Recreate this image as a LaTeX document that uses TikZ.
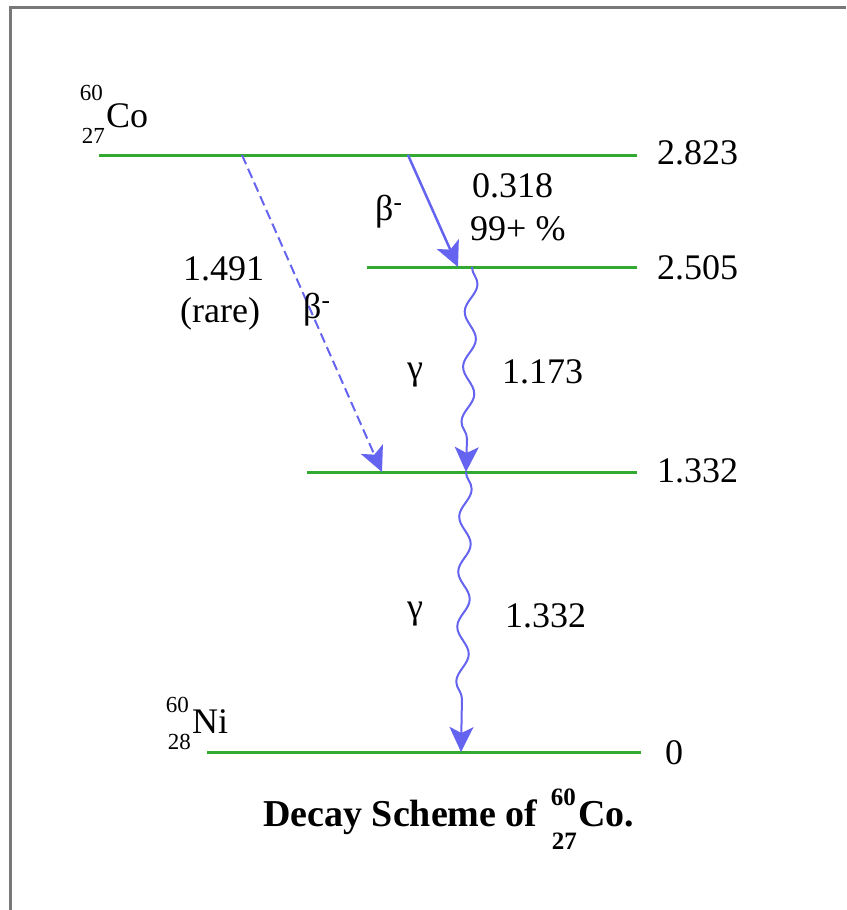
\documentclass[tikz,border=0pt]{standalone}
\usepackage{fontspec}
\setmainfont{Liberation Serif}
\usetikzlibrary{arrows.meta,decorations.pathmorphing}
\definecolor{lvl}{RGB}{50,170,50}
\definecolor{arr}{RGB}{100,100,240}
\definecolor{framec}{RGB}{120,120,120}
\begin{document}
\begin{tikzpicture}[x=1pt,y=-1pt,
  levelline/.style={draw=lvl,line width=3pt},
  txt/.style={inner sep=0pt,font=\fontsize{36}{40}\selectfont},
  scr/.style={inner sep=0pt,font=\fontsize{23}{25}\selectfont},
  captxt/.style={inner sep=0pt,font=\fontsize{38}{40}\selectfont\bfseries},
  capscr/.style={inner sep=0pt,font=\fontsize{25}{27}\selectfont\bfseries},
  tip/.style={-{Stealth[length=25pt,width=24pt,inset=6pt]}},
  betaarrow/.style={draw=arr,line width=2.5pt,tip},
  gammaarrow/.style={draw=arr,line width=2pt,tip,decorate,
    decoration={snake,amplitude=6pt,segment length=55pt,post length=32pt}}
]
\useasboundingbox (0,0) rectangle (846,910);
% frame
\draw[framec,line width=3pt] (10,910) -- (10,7) -- (846,7);

% levels
\coordinate (L1a) at (99,155);  \coordinate (L1b) at (637,155);
\coordinate (L2a) at (367,267); \coordinate (L2b) at (637,267);
\coordinate (L3a) at (307,472); \coordinate (L3b) at (637,472);
\coordinate (L4a) at (207,752); \coordinate (L4b) at (641,752);
\draw[levelline] (L1a) -- (L1b);
\draw[levelline] (L2a) -- (L2b);
\draw[levelline] (L3a) -- (L3b);
\draw[levelline] (L4a) -- (L4b);

% energy labels
\node[txt,anchor=base west] (e1) at (657,164) {2.823};
\node[txt,anchor=base west] (e2) at (657,279) {2.505};
\node[txt,anchor=base west] (e3) at (657,482) {1.332};
\node[txt,anchor=base west] (e4) at (665,764) {0};

% nuclide labels
\node[txt,anchor=base west] (co) at (106,127) {Co};
\node[scr,anchor=base east] (coA) at (103,100) {60};
\node[scr,anchor=base east] (coZ) at (105,143) {27};
\node[txt,anchor=base west] (ni) at (192,733) {Ni};
\node[scr,anchor=base east] (niA) at (189,712) {60};
\node[scr,anchor=base east] (niZ) at (191,749) {28};

% transitions
\coordinate (b1s) at (408,155); \coordinate (b1e) at (458,267);
\coordinate (b2s) at (242,155); \coordinate (b2e) at (382,472);
\coordinate (g1s) at (472,267); \coordinate (g1e) at (466,472);
\coordinate (g2s) at (466,472); \coordinate (g2e) at (461,752);
\draw[betaarrow] (b1s) -- (b1e);
\draw[betaarrow,line width=2pt,dash pattern=on 10pt off 5pt] (b2s) -- (b2e);
\draw[gammaarrow] (g1s) -- (g1e);
\draw[gammaarrow] (g2s) -- (g2e);

% transition labels
\node[txt,anchor=base west] (bl1) at (375,220) {β\textsuperscript{-}};
\node[txt,anchor=base west] (en1) at (472,197) {0.318};
\node[txt,anchor=base west] (pc1) at (470,240) {99+ \%};
\node[txt,anchor=base west] (en2) at (183,280) {1.491};
\node[txt,anchor=base west] (rr2) at (180,322) {(rare)};
\node[txt,anchor=base west] (bl2) at (303,318) {β\textsuperscript{-}};
\node[txt,anchor=base west] (gl1) at (407,379) {γ};
\node[txt,anchor=base west] (en3) at (502,383) {1.173};
\node[txt,anchor=base west] (gl2) at (407,618) {γ};
\node[txt,anchor=base west] (en4) at (505,627) {1.332};

% caption
\node[captxt,anchor=base west] (cap) at (263,826) {Decay Scheme of};
\node[capscr,anchor=base east] (capA) at (576,805) {60};
\node[capscr,anchor=base east] (capZ) at (577,849) {27};
\node[captxt,anchor=base west] (capB) at (578,826) {Co.};
\end{tikzpicture}
\end{document}
